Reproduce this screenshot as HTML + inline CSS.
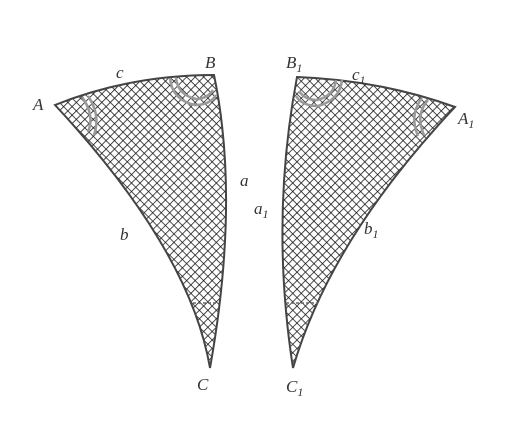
<!DOCTYPE html>
<html><head><meta charset="utf-8"><style>
html,body{margin:0;padding:0;background:#fff;}
svg{display:block}
text{font-family:"Liberation Serif",serif;font-style:italic;font-size:17px;fill:#333}
</style></head><body>
<svg width="511" height="432" viewBox="0 0 511 432">
<defs>
<pattern id="hatch" width="6" height="6" patternUnits="userSpaceOnUse" patternTransform="rotate(45)">
<rect width="6" height="6" fill="#fff"/>
<line x1="0" y1="0" x2="6" y2="0" stroke="#111" stroke-width="1.5"/>
<line x1="0" y1="0" x2="0" y2="6" stroke="#111" stroke-width="1.5"/>
</pattern>
</defs>
<g>
<path d="M55,105 Q130,75 214,75 Q240,200 210,368 Q190,250 55,105 Z" fill="url(#hatch)" stroke="#444" stroke-width="2"/>
<path d="M82,97 Q95,115 88,132 M88,96 Q101,115 94,135" fill="none" stroke="#999" stroke-width="2.5"/>
<path d="M170,78 Q172,100 195,105 Q210,105 216,95 M176,78 Q178,95 196,99 Q207,99 213,90" fill="none" stroke="#999" stroke-width="2.5"/>
<line x1="193" y1="303" x2="218" y2="303" stroke="#666" stroke-width="1.5" stroke-dasharray="3,2"/>
</g>
<g>
<path d="M297,77 Q380,80 455,107 Q330,240 293,368 Q270,220 297,77 Z" fill="url(#hatch)" stroke="#444" stroke-width="2"/>
<path d="M428,100 Q415,115 424,135 M422,98 Q409,115 418,136" fill="none" stroke="#999" stroke-width="2.5"/>
<path d="M342,80 Q340,100 318,106 Q302,106 296,96 M336,80 Q334,96 317,100 Q305,100 299,91" fill="none" stroke="#999" stroke-width="2.5"/>
<line x1="286" y1="303" x2="318" y2="303" stroke="#666" stroke-width="1.5" stroke-dasharray="3,2"/>
</g>
<g>
<text x="33" y="110">A</text>
<text x="205" y="68">B</text>
<text x="197" y="390">C</text>
<text x="116" y="78">c</text>
<text x="240" y="186">a</text>
<text x="120" y="240">b</text>
<text x="286" y="68">B<tspan font-size="12" dy="4">1</tspan></text>
<text x="458" y="124">A<tspan font-size="12" dy="4">1</tspan></text>
<text x="286" y="392">C<tspan font-size="12" dy="4">1</tspan></text>
<text x="352" y="80">c<tspan font-size="12" dy="4">1</tspan></text>
<text x="254" y="214">a<tspan font-size="12" dy="4">1</tspan></text>
<text x="364" y="234">b<tspan font-size="12" dy="4">1</tspan></text>
</g>
</svg>
</body></html>
